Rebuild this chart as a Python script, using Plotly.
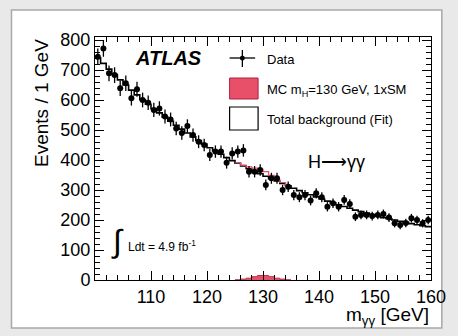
import numpy as np
import plotly.graph_objects as go

# ---- data (bin width 1 GeV, 100-160 GeV) ----
bin_edges = list(range(100, 161))
data_counts = [744, 772, 689, 683, 639, 656, 606, 636, 600, 591,
               567, 572, 545, 535, 505, 490, 513, 483, 461, 450,
               417, 428, 428, 391, 422, 428, 432, 361, 361, 367,
               317, 339, 339, 300, 311, 283, 276, 283, 265, 289,
               276, 244, 256, 244, 267, 253, 211, 217, 217, 213,
               217, 220, 208, 189, 183, 190, 206, 200, 189, 200]
background = [741, 722, 703, 685, 667, 650, 633, 617, 601, 586,
              571, 557, 543, 529, 516, 503, 490, 477, 465, 453,
              441, 430, 419, 408, 398, 389, 380, 371, 362, 354,
              346, 338, 330, 322, 314, 306, 298, 291, 284, 277,
              270, 263, 257, 251, 245, 239, 233, 228, 223, 218,
              213, 208, 204, 200, 196, 192, 188, 184, 181, 178]
signal_edges = [125, 126, 127, 128, 129, 130, 131, 132, 133, 134, 135]
signal = [1, 3, 6, 11, 15, 15, 11, 6, 3, 1]

centers = [(a + b) / 2 for a, b in zip(bin_edges[:-1], bin_edges[1:])]
errs = np.sqrt(np.array(data_counts, dtype=float))

font = "Liberation Sans, Arial, Helvetica, sans-serif"
red = "#e8506a"

fig = go.Figure()

fig.add_trace(go.Scatter(x=signal_edges, y=signal + [signal[-1]], mode="lines",
                         line=dict(shape="hv", color="#c0304a", width=1),
                         fill="tozeroy", fillcolor=red, hoverinfo="skip"))

fig.add_trace(go.Scatter(x=bin_edges, y=background + [background[-1]], mode="lines",
                         line=dict(shape="hv", color="black", width=1.6), hoverinfo="skip"))

i0 = bin_edges.index(signal_edges[0])
stack = [background[i0 + k] + s for k, s in enumerate(signal)]
fig.add_trace(go.Scatter(x=signal_edges, y=stack + [stack[-1]], mode="lines",
                         line=dict(shape="hv", color=red, width=1.2), hoverinfo="skip"))

fig.add_trace(go.Scatter(x=centers, y=data_counts, mode="markers",
                         marker=dict(color="black", size=6),
                         error_y=dict(type="data", array=errs, color="black",
                                      thickness=1.3, width=0)))

def px2paper_x(px):
    return (px - 95) / 342

def px2paper_y(py):
    return (280 - py) / 243

shapes = [
    dict(type="rect", xref="paper", yref="paper", layer="below",
         x0=px2paper_x(10), x1=px2paper_x(448), y0=px2paper_y(328), y1=px2paper_y(10),
         fillcolor="white", line=dict(color="#a8a8a8", width=1.5)),
    dict(type="line", xref="paper", yref="paper",
         x0=px2paper_x(232), x1=px2paper_x(258), y0=px2paper_y(58), y1=px2paper_y(58),
         line=dict(color="black", width=1.3)),
    dict(type="line", xref="paper", yref="paper",
         x0=px2paper_x(245), x1=px2paper_x(245), y0=px2paper_y(50), y1=px2paper_y(67),
         line=dict(color="black", width=1.3)),
    dict(type="circle", xref="paper", yref="paper",
         x0=px2paper_x(242.5), x1=px2paper_x(247.5), y0=px2paper_y(60.5), y1=px2paper_y(55.5),
         fillcolor="black", line=dict(color="black", width=0)),
    dict(type="rect", xref="paper", yref="paper",
         x0=px2paper_x(232), x1=px2paper_x(261), y0=px2paper_y(99), y1=px2paper_y(78),
         fillcolor=red, line=dict(color="#b02040", width=1)),
    dict(type="rect", xref="paper", yref="paper",
         x0=px2paper_x(232), x1=px2paper_x(261), y0=px2paper_y(130), y1=px2paper_y(107),
         fillcolor="white", line=dict(color="black", width=1.2)),
]

def ann(text, px, py, size, xanchor="center", yanchor="middle", **kw):
    return dict(text=text, x=px2paper_x(px), y=px2paper_y(py), xref="paper", yref="paper",
                xanchor=xanchor, yanchor=yanchor, showarrow=False,
                font=dict(family=font, size=size, color="black"), **kw)

annotations = [
    ann("<b><i>ATLAS</i></b>", 170, 58, 20),
    ann("Data", 268, 59, 13, xanchor="left"),
    ann("MC m<sub>H</sub>=130 GeV, 1xSM", 268, 90, 13, xanchor="left"),
    ann("Total background (Fit)", 268, 119, 13, xanchor="left"),
    ann("H⟶γγ", 341, 162, 18),
    ann("∫", 118, 241, 32),
    ann("Ldt = 4.9 fb<sup>-1</sup>", 127, 246, 12, xanchor="left"),
    ann("m<sub>γγ</sub> [GeV]", 437, 316, 19, xanchor="right"),
    ann("Events / 1 GeV", 40, 37, 19, yanchor="top", textangle=-90),
]

axis_common = dict(showgrid=False, zeroline=False, showline=True, linecolor="black", linewidth=1,
                   mirror="ticks", ticks="inside", ticklen=9, tickcolor="black", tickwidth=1,
                   tickfont=dict(family=font, size=18, color="black"))

fig.update_layout(
    width=458, height=336,
    margin=dict(l=95, r=21, t=37, b=56),
    paper_bgcolor="#e9e9e9", plot_bgcolor="white",
    showlegend=False,
    shapes=shapes, annotations=annotations,
    xaxis=dict(range=[100, 160], tickvals=[110, 120, 130, 140, 150, 160],
               minor=dict(dtick=2, ticks="inside", ticklen=5, tickcolor="black"),
               **axis_common),
    yaxis=dict(range=[0, 810], tickvals=[0, 100, 200, 300, 400, 500, 600, 700, 800],
               minor=dict(dtick=20, ticks="inside", ticklen=5, tickcolor="black"),
               **axis_common),
)

fig.write_html("out.html")
